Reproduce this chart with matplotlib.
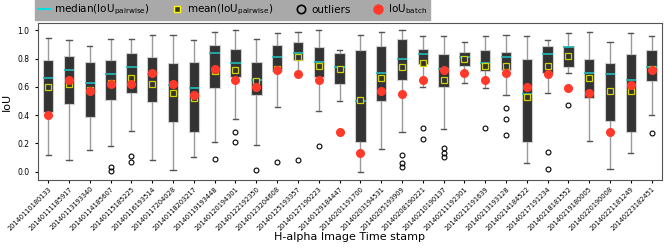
import numpy as np
import matplotlib
matplotlib.use("Agg")
import matplotlib.pyplot as plt
from matplotlib.lines import Line2D

# timestamps of the H-alpha images
stamps = [
    "20140110180133", "20140111185917", "20140113193340", "20140114185607",
    "20140115185225", "20140116193514", "20140117204028", "20140118203217",
    "20140119193448", "20140120194301", "20140122192350", "20140123204608",
    "20140125193357", "20140127190223", "20140129184447", "20140201191700",
    "20140203194531", "20140205193909", "20140208190221", "20140210190137",
    "20140211192301", "20140212191639", "20140213193128", "20140214184522",
    "20140217191234", "20140218181552", "20140219180005", "20140220190008",
    "20140221181249", "20140223182451",
]

# pairwise IoU summary per image
whislo = [0.12, 0.08, 0.15, 0.18, 0.29, 0.08, 0.01, 0.10, 0.21, 0.37,
          0.19, 0.46, 0.69, 0.43, 0.50, 0.00, 0.16, 0.28, 0.60, 0.30,
          0.63, 0.59, 0.54, 0.06, 0.56, 0.70, 0.22, 0.02, 0.13, 0.40]
q1 = [0.42, 0.48, 0.39, 0.51, 0.56, 0.49, 0.35, 0.28, 0.59, 0.67,
      0.54, 0.71, 0.79, 0.67, 0.62, 0.21, 0.50, 0.65, 0.76, 0.60,
      0.75, 0.71, 0.72, 0.21, 0.70, 0.74, 0.52, 0.36, 0.28, 0.64]
med = [0.66, 0.72, 0.63, 0.69, 0.74, 0.69, 0.61, 0.59, 0.84, 0.77,
       0.65, 0.81, 0.84, 0.78, 0.74, 0.50, 0.70, 0.80, 0.83, 0.73,
       0.81, 0.77, 0.81, 0.55, 0.83, 0.88, 0.70, 0.69, 0.65, 0.74]
q3 = [0.79, 0.82, 0.78, 0.79, 0.84, 0.81, 0.77, 0.78, 0.90, 0.87,
      0.78, 0.90, 0.92, 0.88, 0.84, 0.86, 0.89, 0.94, 0.87, 0.83,
      0.85, 0.86, 0.85, 0.80, 0.89, 0.89, 0.80, 0.77, 0.83, 0.86]
whishi = [0.95, 0.93, 0.89, 0.94, 0.94, 0.97, 0.97, 0.93, 0.99, 1.00,
          0.94, 0.98, 0.99, 1.00, 0.86, 0.97, 0.99, 1.00, 0.96, 0.96,
          0.92, 0.96, 0.97, 0.96, 0.93, 0.98, 0.99, 0.92, 0.98, 0.96]
mean_pw = [0.60, 0.62, 0.58, 0.63, 0.66, 0.62, 0.56, 0.52, 0.71, 0.72,
           0.64, 0.73, 0.81, 0.75, 0.73, 0.51, 0.66, 0.74, 0.77, 0.65,
           0.80, 0.75, 0.75, 0.53, 0.75, 0.82, 0.66, 0.57, 0.57, 0.73]
outliers = [[], [], [], [0.03, 0.005], [0.11, 0.065], [], [], [], [0.09], [0.28, 0.21],
            [0.01], [0.07], [0.08], [0.18], [], [], [], [0.12, 0.06, 0.035], [0.31, 0.23],
            [0.17, 0.13, 0.10],
            [], [0.31], [0.45, 0.37, 0.26], [], [0.14, 0.02], [0.47], [], [], [], [0.27]]
iou_batch = [0.40, 0.65, 0.57, 0.62, 0.62, 0.70, 0.62, 0.54, 0.73, 0.65,
             0.60, 0.72, 0.69, 0.65, 0.28, 0.13, 0.57, 0.55, 0.65, 0.72,
             0.70, 0.65, 0.70, 0.60, 0.69, 0.59, 0.56, 0.28, 0.61, 0.72]

stats = []
for i in range(len(stamps)):
    stats.append(dict(whislo=whislo[i], q1=q1[i], med=med[i], q3=q3[i],
                      whishi=whishi[i], mean=mean_pw[i], fliers=outliers[i]))

MED_C = "#1fbcbc"
MEAN_EC = "#d2d200"
RED = "#ff3a2a"

fig = plt.figure(figsize=(6.64, 2.49), dpi=100)
ax = fig.add_axes([0.057, 0.277, 0.940, 0.629])

pos = np.arange(1, len(stamps) + 1)
ax.bxp(stats, positions=pos, widths=0.5, patch_artist=True, showmeans=True,
       boxprops=dict(facecolor="#333333", edgecolor="#cfcfcf", linewidth=0.8),
       whiskerprops=dict(color="#999999", linewidth=1.0),
       capprops=dict(color="#555555", linewidth=1.0),
       medianprops=dict(color=MED_C, linewidth=1.2),
       meanprops=dict(marker="s", markerfacecolor="#333333", markeredgecolor=MEAN_EC,
                      markersize=5, markeredgewidth=0.9),
       flierprops=dict(marker="o", markerfacecolor="none", markeredgecolor="black",
                       markersize=3.5, markeredgewidth=0.8))
ax.plot(pos, iou_batch, "o", color=RED, markersize=5.5, zorder=5)

ax.set_xlim(0.5, len(stamps) + 0.5)
ax.set_ylim(-0.06, 1.05)
ax.set_yticks(np.arange(0, 1.01, 0.2))
ax.set_xticks(pos)
ax.set_xticklabels(stamps, rotation=45, ha="right", rotation_mode="anchor", fontsize=4.8)
ax.tick_params(axis="y", labelsize=5.5, length=2.5)
ax.tick_params(axis="x", length=2.5, pad=1.5)
for s in ax.spines.values():
    s.set_color("#555555")
ax.set_ylabel("IoU", fontsize=8, labelpad=4)
ax.set_xlabel("H-alpha Image Time stamp", fontsize=8, labelpad=0)

handles = [
    Line2D([], [], color="#00e0e0", linewidth=1.5),
    Line2D([], [], marker="s", linestyle="none", markerfacecolor="#333333",
           markeredgecolor="yellow", markersize=5, markeredgewidth=1.0),
    Line2D([], [], marker="o", linestyle="none", markerfacecolor="none",
           markeredgecolor="black", markersize=6, markeredgewidth=1.2),
    Line2D([], [], marker="o", linestyle="none", color=RED, markersize=6.5),
]
labels = [r"median(IoU$_{\mathrm{pairwise}}$)", r"mean(IoU$_{\mathrm{pairwise}}$)",
          "outliers", r"IoU$_{\mathrm{batch}}$"]
leg = fig.legend(handles, labels, loc="upper left", bbox_to_anchor=(35 / 664, 1.0),
                 ncol=4, fontsize=7.5, frameon=True, fancybox=False, framealpha=1,
                 facecolor="#a9a9a9", edgecolor="#a9a9a9", borderaxespad=0,
                 handlelength=1.2, handletextpad=0.4, columnspacing=2.0,
                 borderpad=0.25)

fig.savefig("out.png", dpi=100)
